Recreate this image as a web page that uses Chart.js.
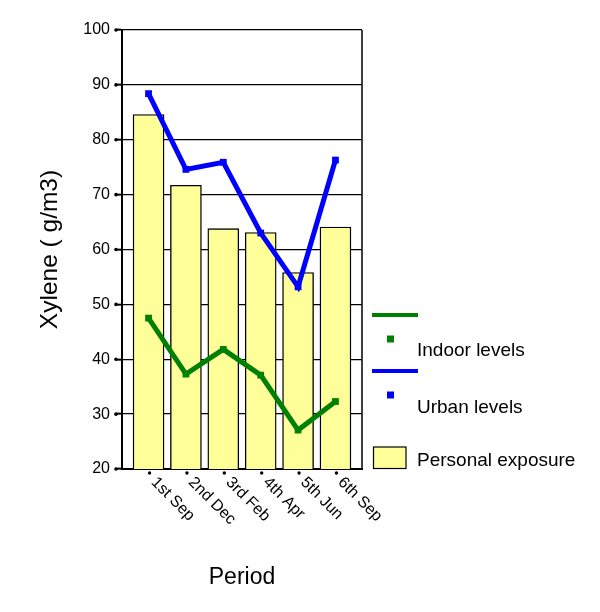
<!DOCTYPE html>
<html>
<head>
<meta charset="utf-8">
<script src="https://cdn.jsdelivr.net/npm/chart.js@4/dist/chart.umd.min.js"></script>
<style>
  html, body { margin: 0; padding: 0; background: #ffffff; }
  #wrap { width: 600px; height: 612px; }
</style>
</head>
<body>
<div id="wrap"><canvas id="c" width="600" height="612"></canvas></div>
<script>
const categories = ['1st Sep', '2nd Dec', '3rd Feb', '4th Apr', '5th Jun', '6th Sep'];
const personalExposure = [84.6, 71.7, 63.8, 63.1, 55.8, 64.1];
const urbanLevels = [88.4, 74.6, 75.9, 63.0, 53.2, 76.3];
const indoorLevels = [47.5, 37.3, 41.8, 37.1, 27.1, 32.3];
const yTicks = [20, 30, 40, 50, 60, 70, 80, 90, 100];

const FONT = "'Liberation Sans', Arial, Helvetica, sans-serif";
const toPoints = arr => arr.map((v, i) => ({ x: i, y: v }));

const decorations = {
  id: 'decorations',
  afterDraw(chart) {
    const ctx = chart.ctx;
    const area = chart.chartArea;
    const xs = chart.scales.x;
    const ys = chart.scales.y;
    ctx.save();
    // right border
    ctx.strokeStyle = '#000';
    ctx.lineWidth = 1.5;
    ctx.beginPath();
    ctx.moveTo(area.right, area.top);
    ctx.lineTo(area.right, area.bottom);
    ctx.stroke();
    // y tick end dots
    ctx.fillStyle = '#000';
    ys.ticks.forEach(t => {
      const y = ys.getPixelForValue(t.value);
      ctx.beginPath();
      ctx.arc(area.left - 6, y, 1.8, 0, Math.PI * 2);
      ctx.fill();
    });
    // x tick dots + rotated labels
    ctx.font = '16px ' + FONT;
    ctx.textAlign = 'left';
    ctx.textBaseline = 'middle';
    categories.forEach((lab, i) => {
      const x = xs.getPixelForValue(i) + 1;
      ctx.beginPath();
      ctx.arc(x, area.bottom + 4, 1.7, 0, Math.PI * 2);
      ctx.fill();
      ctx.save();
      ctx.translate(x + 4, area.bottom + 11);
      ctx.rotate(Math.PI / 4);
      ctx.fillText(lab, 0, 0);
      ctx.restore();
    });
    // legend
    const lx = area.right + 10;
    ctx.font = '19px ' + FONT;
    ctx.textBaseline = 'alphabetic';
    const items = [
      { color: '#008000', lineY: 315, markY: 339, textY: 356, text: 'Indoor levels' },
      { color: '#0000ff', lineY: 371, markY: 395, textY: 412.5, text: 'Urban levels' }
    ];
    items.forEach(it => {
      ctx.strokeStyle = it.color;
      ctx.lineWidth = 4;
      ctx.beginPath();
      ctx.moveTo(lx, it.lineY);
      ctx.lineTo(lx + 46, it.lineY);
      ctx.stroke();
      ctx.fillStyle = it.color;
      ctx.fillRect(lx + 15, it.markY - 3.5, 7, 7);
      ctx.fillStyle = '#000';
      ctx.fillText(it.text, lx + 45, it.textY);
    });
    ctx.fillStyle = '#ffff99';
    ctx.fillRect(lx + 1.5, 447, 32.5, 21.5);
    ctx.strokeStyle = '#000';
    ctx.lineWidth = 1.2;
    ctx.strokeRect(lx + 1.5, 447, 32.5, 21.5);
    ctx.fillStyle = '#000';
    ctx.fillText('Personal exposure', lx + 45, 465.5);
    ctx.restore();
  }
};

new Chart(document.getElementById('c'), {
  type: 'bar',
  data: {
    datasets: [
      {
        type: 'line',
        label: 'Indoor levels',
        data: toPoints(indoorLevels),
        borderColor: '#008000',
        backgroundColor: '#008000',
        borderWidth: 5,
        pointStyle: 'rect',
        pointRadius: 4.8,
        pointBorderWidth: 0,
        pointBackgroundColor: '#008000',
        borderJoinStyle: 'miter',
        tension: 0
      },
      {
        type: 'line',
        label: 'Urban levels',
        data: toPoints(urbanLevels),
        borderColor: '#0000ff',
        backgroundColor: '#0000ff',
        borderWidth: 5,
        pointStyle: 'rect',
        pointRadius: 4.8,
        pointBorderWidth: 0,
        pointBackgroundColor: '#0000ff',
        borderJoinStyle: 'miter',
        tension: 0
      },
      {
        type: 'bar',
        label: 'Personal exposure',
        data: toPoints(personalExposure),
        backgroundColor: '#ffff99',
        borderColor: '#000000',
        borderWidth: 1.4,
        barThickness: 31
      }
    ]
  },
  options: {
    responsive: false,
    animation: false,
    events: [],
    layout: { padding: { top: 30, right: 238, left: 0, bottom: 0 } },
    plugins: {
      legend: { display: false },
      tooltip: { enabled: false },
      title: { display: false }
    },
    scales: {
      x: {
        type: 'linear',
        offset: false,
        min: -0.71,
        max: 5.71,
        afterBuildTicks: s => { s.ticks = categories.map((_, i) => ({ value: i })); },
        afterFit: s => { s.height = 143; },
        grid: { display: false, drawTicks: false, offset: false },
        border: { display: true, color: '#000', width: 2 },
        ticks: { display: false },
        title: {
          display: true,
          text: 'Period',
          color: '#000',
          font: { family: FONT, size: 23 },
          padding: { top: 0, bottom: 21 }
        }
      },
      y: {
        type: 'linear',
        min: 20,
        max: 100,
        afterBuildTicks: s => { s.ticks = yTicks.map(v => ({ value: v })); },
        afterFit: s => { s.width = 122; },
        grid: {
          color: '#000',
          lineWidth: 1.3,
          drawTicks: true,
          tickLength: 6,
          tickColor: '#000',
          tickWidth: 2
        },
        border: { display: true, color: '#000', width: 2 },
        ticks: {
          color: '#000',
          padding: 6,
          font: { family: FONT, size: 16 }
        },
        title: {
          display: true,
          text: 'Xylene ( g/m3)',
          color: '#000',
          font: { family: FONT, size: 24.5 },
          padding: { top: 36, bottom: 0 }
        }
      }
    }
  },
  plugins: [decorations]
});
</script>
</body>
</html>
